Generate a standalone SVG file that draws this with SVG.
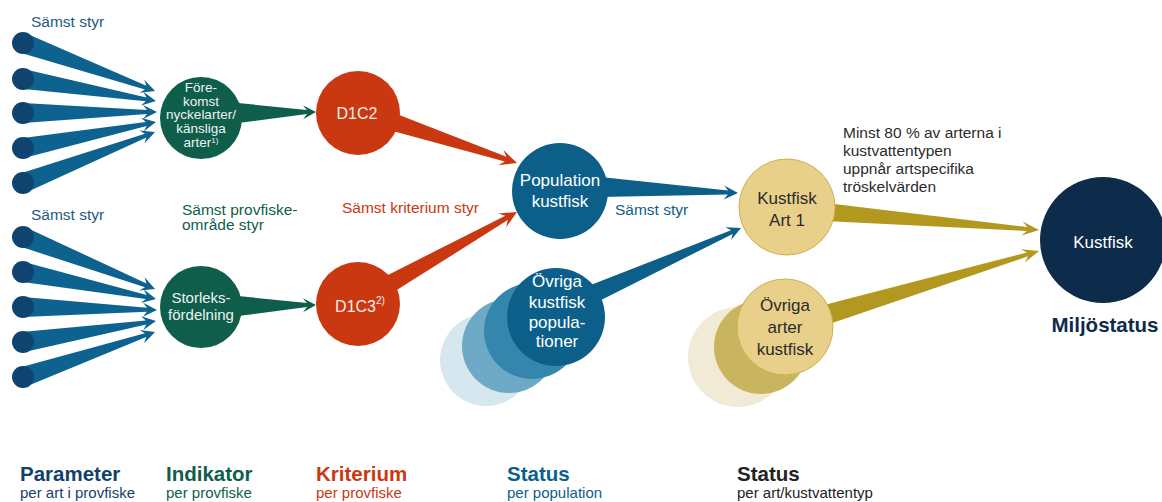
<svg xmlns="http://www.w3.org/2000/svg" width="1162" height="502" viewBox="0 0 1162 502">
<style>
text{font-family:"Liberation Sans",Arial,sans-serif;}
.lbl{font-size:15.5px;}
.nt{font-size:15px;fill:#eef3f0;text-anchor:middle;}
.nt14{font-size:13.5px;fill:#eef3f0;text-anchor:middle;}
.nt17{font-size:17px;fill:#ffffff;text-anchor:middle;}
.dk{font-size:17px;fill:#2b2b2b;text-anchor:middle;}
.lt{font-size:20.5px;font-weight:bold;}
.ls{font-size:15px;}
.dotA{fill:#0d6290;}
.dot{fill:#0f4470;}
.gA{fill:#0f5e4c;}
.rA{fill:#c93811;}
.bA{fill:#0b5f89;}
.yA{fill:#b3981f;}
.gold{fill:#e9d08a;stroke:#cdb04b;stroke-width:1;}
</style>
<rect width="1162" height="502" fill="#ffffff"/>

<g id="connectors">
  <path class="dotA" transform="translate(23,43) rotate(19.98)" d="M0,-10 L130.5,-2 L126.5,-7 L140.5,0 L126.5,7 L130.5,2 L0,10 Z"/>
  <path class="dotA" transform="translate(23,79) rotate(9.39)" d="M0,-10 L124.8,-2 L120.8,-7 L134.8,0 L120.8,7 L124.8,2 L0,10 Z"/>
  <path class="dotA" transform="translate(23,113) rotate(-0.43)" d="M0,-10 L124,-2 L120,-7 L134,0 L120,7 L124,2 L0,10 Z"/>
  <path class="dotA" transform="translate(23,148) rotate(-11.06)" d="M0,-10 L125.5,-2 L121.5,-7 L135.5,0 L121.5,7 L125.5,2 L0,10 Z"/>
  <path class="dotA" transform="translate(23,183) rotate(-21.12)" d="M0,-10 L131.5,-2 L127.5,-7 L141.5,0 L127.5,7 L131.5,2 L0,10 Z"/>

  <path class="dotA" transform="translate(23,237) rotate(21.5)" d="M0,-10 L131.9,-2 L127.9,-7 L141.9,0 L127.9,7 L131.9,2 L0,10 Z"/>
  <path class="dotA" transform="translate(23,272) rotate(11.48)" d="M0,-10 L125.7,-2 L121.7,-7 L135.7,0 L121.7,7 L125.7,2 L0,10 Z"/>
  <path class="dotA" transform="translate(23,307) rotate(1.28)" d="M0,-10 L124,-2 L120,-7 L134,0 L120,7 L124,2 L0,10 Z"/>
  <path class="dotA" transform="translate(23,342) rotate(-8.97)" d="M0,-10 L124.6,-2 L120.6,-7 L134.6,0 L120.6,7 L124.6,2 L0,10 Z"/>
  <path class="dotA" transform="translate(23,377) rotate(-18.82)" d="M0,-10 L129.5,-2 L125.5,-7 L139.5,0 L125.5,7 L129.5,2 L0,10 Z"/>

  <path class="gA" transform="translate(238,113) rotate(-0.73)" d="M0,-10 L69,-2 L65,-7 L78,0 L65,7 L69,2 L0,10 Z"/>
  <path class="gA" transform="translate(238,306) rotate(-0.73)" d="M0,-10 L69,-2 L65,-7 L78,0 L65,7 L69,2 L0,10 Z"/>

  <path class="rA" transform="translate(390,121) rotate(18.30)" d="M0,-9 L121.8,-2.5 L116.8,-8 L133.8,0 L116.8,8 L121.8,2.5 L0,9 Z"/>
  <path class="rA" transform="translate(388,285) rotate(-29.51)" d="M0,-9 L136.2,-2.5 L131.2,-8 L148.2,0 L131.2,8 L136.2,2.5 L0,9 Z"/>

  <path class="bA" transform="translate(600,187) rotate(2.49)" d="M0,-10 L128.1,-2 L124.1,-7 L138.1,0 L124.1,7 L128.1,2 L0,10 Z"/>
  <path class="bA" transform="translate(595,293) rotate(-24.0)" d="M0,-9 L149.8,-2 L145.8,-7 L159.8,0 L145.8,7 L149.8,2 L0,9 Z"/>

  <path class="yA" transform="translate(825,212) rotate(4.81)" d="M0,-9 L202.8,-2 L197.8,-7 L214.8,0 L197.8,7 L202.8,2 L0,9 Z"/>
  <path class="yA" transform="translate(825,315) rotate(-16.65)" d="M0,-10 L211.4,-2 L206.4,-7 L223.4,0 L206.4,7 L211.4,2 L0,10 Z"/>
</g>

<g id="params-top">
  <circle class="dot" cx="23" cy="43" r="11"/>
  <circle class="dot" cx="23" cy="79" r="11"/>
  <circle class="dot" cx="23" cy="113" r="11"/>
  <circle class="dot" cx="23" cy="148" r="11"/>
  <circle class="dot" cx="23" cy="183" r="11"/>
</g>
<g id="params-bottom">
  <circle class="dot" cx="23" cy="237" r="11"/>
  <circle class="dot" cx="23" cy="272" r="11"/>
  <circle class="dot" cx="23" cy="307" r="11"/>
  <circle class="dot" cx="23" cy="342" r="11"/>
  <circle class="dot" cx="23" cy="377" r="11"/>
</g>

<g id="forekomst">
  <circle cx="201" cy="118" r="41" fill="#0f5e4c"/>
  <text class="nt14" x="201" y="92">Före-</text>
  <text class="nt14" x="201" y="105.5">komst</text>
  <text class="nt14" x="201" y="119">nyckelarter/</text>
  <text class="nt14" x="201" y="132.5">känsliga</text>
  <text class="nt14" x="201" y="146.5">arter<tspan font-size="8" dy="-4">1)</tspan></text>
</g>
<g id="storleks">
  <circle cx="201" cy="307" r="41" fill="#0f5e4c"/>
  <text class="nt" x="201" y="303">Storleks-</text>
  <text class="nt" x="201" y="320">fördelning</text>
</g>

<g id="d1c2">
  <circle cx="358" cy="113" r="42" fill="#c93811"/>
  <text x="357" y="119" font-size="16" fill="#fbeee9" text-anchor="middle">D1C2</text>
</g>
<g id="d1c3">
  <circle cx="358" cy="304" r="42" fill="#c93811"/>
  <text x="360" y="312" font-size="16" fill="#fbeee9" text-anchor="middle">D1C3<tspan font-size="10" dy="-8">2)</tspan></text>
</g>

<g id="population">
  <circle cx="560" cy="191" r="48" fill="#0b5f89"/>
  <text class="nt17" x="560" y="186">Population</text>
  <text class="nt17" x="560" y="207">kustfisk</text>
</g>
<g id="ovriga-populationer">
  <circle cx="486" cy="360" r="46" fill="#d6e7ef"/>
  <circle cx="509" cy="346" r="47" fill="#6ea9c5"/>
  <circle cx="532" cy="331" r="48" fill="#3486ad"/>
  <circle cx="556" cy="317" r="49" fill="#0b5f89"/>
  <text class="nt17" x="557" y="287">Övriga</text>
  <text class="nt17" x="557" y="308">kustfisk</text>
  <text class="nt17" x="557" y="328">popula-</text>
  <text class="nt17" x="557" y="347">tioner</text>
</g>

<g id="kustfisk-art1">
  <circle class="gold" cx="787" cy="207" r="48"/>
  <text class="dk" x="787" y="204">Kustfisk</text>
  <text class="dk" x="787" y="226">Art 1</text>
</g>
<g id="ovriga-arter">
  <circle cx="738" cy="357" r="50" fill="#f0ead6"/>
  <circle cx="761" cy="347" r="47" fill="#c9b45f"/>
  <circle class="gold" cx="785" cy="327" r="48"/>
  <text class="dk" x="785" y="311">Övriga</text>
  <text class="dk" x="785" y="333">arter</text>
  <text class="dk" x="785" y="355">kustfisk</text>
</g>

<g id="kustfisk">
  <circle cx="1103" cy="240" r="63" fill="#0d2b4a"/>
  <text class="nt17" x="1103" y="248">Kustfisk</text>
  <text x="1105" y="332" font-size="20.5" font-weight="bold" fill="#0d2b4a" text-anchor="middle">Miljöstatus</text>
</g>

<g id="labels">
  <text class="lbl" x="31" y="27" fill="#1d5a85">Sämst styr</text>
  <text class="lbl" x="31" y="220" fill="#1d5a85">Sämst styr</text>
  <text class="lbl" x="182" y="215" fill="#0f5e4c">Sämst provfiske-</text>
  <text class="lbl" x="182" y="230" fill="#0f5e4c">område styr</text>
  <text class="lbl" x="342" y="213" fill="#c93811">Sämst kriterium styr</text>
  <text class="lbl" x="615" y="215" fill="#0b5f89">Sämst styr</text>
  <text class="lbl" x="843" y="138" fill="#2b2b2b">Minst 80 % av arterna i</text>
  <text class="lbl" x="843" y="156" fill="#2b2b2b">kustvattentypen</text>
  <text class="lbl" x="843" y="174" fill="#2b2b2b">uppnår artspecifika</text>
  <text class="lbl" x="843" y="192" fill="#2b2b2b">tröskelvärden</text>
</g>

<g id="legend">
  <text class="lt" x="20" y="481" fill="#123f6b">Parameter</text>
  <text class="ls" x="20" y="498" fill="#123f6b">per art i provfiske</text>
  <text class="lt" x="166" y="481" fill="#0f5e4c">Indikator</text>
  <text class="ls" x="166" y="498" fill="#0f5e4c">per provfiske</text>
  <text class="lt" x="316" y="481" fill="#c93811">Kriterium</text>
  <text class="ls" x="316" y="498" fill="#c93811">per provfiske</text>
  <text class="lt" x="507" y="481" fill="#0b5f89">Status</text>
  <text class="ls" x="507" y="498" fill="#0b5f89">per population</text>
  <text class="lt" x="737" y="481" fill="#222222">Status</text>
  <text class="ls" x="737" y="498" fill="#222222">per art/kustvattentyp</text>
</g>
</svg>
